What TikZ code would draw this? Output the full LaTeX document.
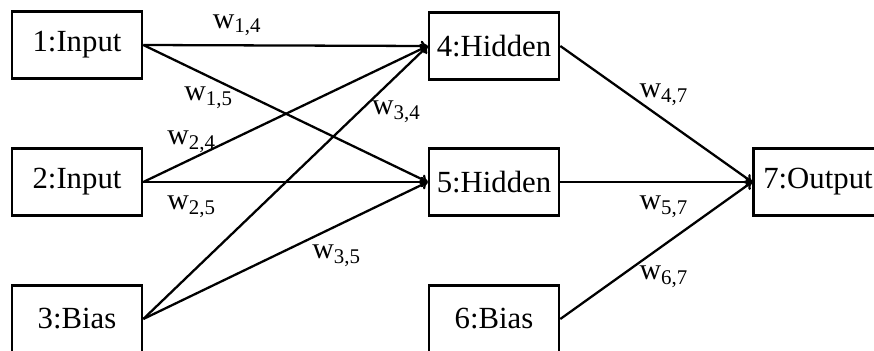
\documentclass[tikz,border=0pt]{standalone}
\usepackage{fontspec}
\setmainfont{Liberation Serif}
\usepackage{tikz}
\usetikzlibrary{arrows.meta, positioning}
\tikzset{
    unit/.style={
        draw=black,
        line width=1.5pt,
        fill=white,
        minimum width=2.6cm,
        minimum height=1.34cm,
        font=\fontsize{17.5}{20}\selectfont,
        align=center,
        inner sep=2pt
    },
    wire/.style={
        -{To[length=4pt, width=6pt]},
        line width=1.3pt,
        black
    },
    wlabel/.style={
        font=\fontsize{17}{20}\selectfont,
        inner sep=0pt
    }
}
\begin{document}
\begin{tikzpicture}
        \useasboundingbox (0,0) rectangle (17.48,7);
        \clip (0,0) rectangle (17.48,7);

        % Input layer
        \node[unit] (n1) at (1.54,6.10) {1:Input};
        \node[unit] (n2) at (1.54,3.36) {2:Input};
        \node[unit] (n3) at (1.54,0.62) {3:Bias};

        % Hidden layer
        \node[unit] (n4) at (9.88,6.08) {4:Hidden};
        \node[unit] (n5) at (9.88,3.36) {5:Hidden};
        \node[unit] (n6) at (9.88,0.62) {6:Bias};

        % Output layer (cut off at the right edge)
        \node[unit, minimum width=3cm, text width=2.6cm, align=left, anchor=west] (n7) at (15.04,3.36) {7:Output};

        % Weights into the hidden layer
        \draw[wire] (n1.east) -- node[wlabel, pos=.33, yshift=0.4cm] {w\textsubscript{1,4}} (n4.west);
        \draw[wire] (n1.east) -- node[wlabel, pos=.23, yshift=-0.43cm] {w\textsubscript{1,5}} (n5.west);
        \draw[wire] (n2.east) -- node[wlabel, pos=.17, yshift=0.34cm] {w\textsubscript{2,4}} (n4.west);
        \draw[wire] (n2.east) -- node[wlabel, pos=.17, yshift=-0.5cm] {w\textsubscript{2,5}} (n5.west);
        \draw[wire] (n3.east) -- node[wlabel, pos=.76, xshift=0.74cm] {w\textsubscript{3,4}} (n4.west);
        \draw[wire] (n3.east) -- node[wlabel, pos=.68, yshift=-0.6cm] {w\textsubscript{3,5}} (n5.west);

        % Weights into the output
        \draw[wire] (n4.east) -- node[wlabel, pos=.54, yshift=0.49cm] {w\textsubscript{4,7}} (n7.west);
        \draw[wire] (n5.east) -- node[wlabel, pos=.54, yshift=-0.5cm] {w\textsubscript{5,7}} (n7.west);
        \draw[wire] (n6.east) -- node[wlabel, pos=.54, yshift=-0.64cm] {w\textsubscript{6,7}} (n7.west);
    \end{tikzpicture}
\end{document}
